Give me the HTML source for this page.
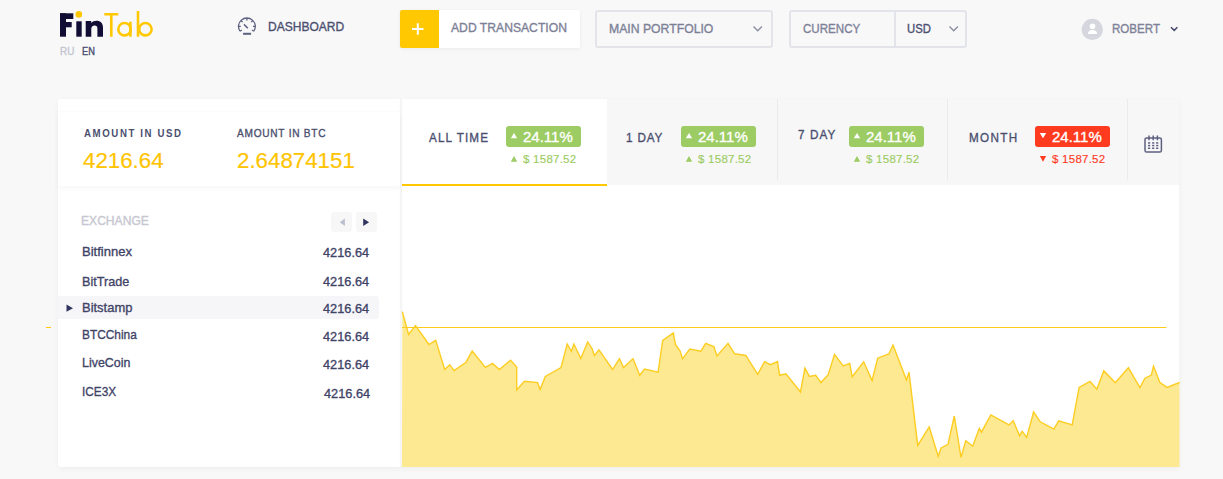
<!DOCTYPE html>
<html><head><meta charset="utf-8">
<style>
*{margin:0;padding:0;box-sizing:border-box}
html,body{width:1223px;height:479px;overflow:hidden;background:#f8f8f9;font-family:"Liberation Sans",sans-serif}
.a{position:absolute;white-space:nowrap;line-height:1;transform-origin:0 0}
.m{-webkit-text-stroke:0.35px currentColor}
.dk{color:#4b4f6f}
.rw{color:#3f4467}
.gr{color:#7d8197}
.btn{position:absolute;left:400px;top:10px;width:180px;height:38px;background:#fff;border-radius:2px;box-shadow:0 1px 4px rgba(0,0,0,0.06)}
.plus{position:absolute;left:400px;top:10px;width:39px;height:38px;background:#ffc800;border-radius:2px 0 0 2px}
.sel{position:absolute;top:10px;height:38px;border:2px solid #e3e4e9;border-radius:3px;background:#f8f8f9}
.card{position:absolute;left:58px;top:99px;width:1121px;height:368px;background:#fff;border-radius:3px;box-shadow:0 2px 6px rgba(0,0,0,0.045)}
.tabs{position:absolute;left:402px;top:99px;width:777px;height:86px;background:#f7f7f8}
.tab1{position:absolute;left:402px;top:99px;width:205px;height:86px;background:#fff}
.uline{position:absolute;left:402px;top:184px;width:205px;height:2px;background:#ffc800}
.vd{position:absolute;top:99px;width:1px;height:81px;background:#ebebee}
.badge{position:absolute;top:126px;width:75px;height:21px;border-radius:3px}
.g{background:#9ccc63}
.r{background:#ff3b1f}
.amt{font-size:11px}
.big{font-size:22.3px;color:#ffc400;-webkit-text-stroke:0.2px currentColor}
.tl{font-size:13px;letter-spacing:1.2px;transform:scaleX(0.9)}
.bt{font-size:15px;color:#fff}
.sub{font-size:11.5px;letter-spacing:0.25px;-webkit-text-stroke:0.15px currentColor}
.row{font-size:13.5px}
.hd{font-size:13px}
</style></head><body>

<!-- logo -->
<svg class="a" style="left:0;top:0" width="200" height="60" viewBox="0 0 200 60">
  <g fill="#120d34">
    <rect x="60" y="13.3" width="6" height="23.4"/>
    <rect x="60" y="13.3" width="13.3" height="5.7"/>
    <rect x="60" y="22" width="11.7" height="5.3"/>
    <rect x="76.3" y="21.3" width="5.4" height="15.4"/>
    <path d="M85.7 21 H91.2 V23 C92.5 21.5 94.5 20.7 96.5 20.7 C100.5 20.7 103 23.2 103 27.5 V36.7 H97.4 V28.5 C97.4 26.6 96.5 25.6 94.6 25.6 C92.5 25.6 91.3 26.9 91.3 29 V36.7 H85.7 Z"/>
  </g>
  <circle cx="78.8" cy="14.4" r="3.3" fill="#ffc800"/>
  <g fill="none" stroke="#ffc800" stroke-width="2.6">
    <path d="M104.3 14.3 H118.3 M111.3 14.3 V36.7"/>
    <circle cx="124.5" cy="29.2" r="6.2"/>
    <path d="M130.4 21.7 V36.7"/>
    <path d="M138 11 V36.7"/>
    <circle cx="145.4" cy="29.2" r="6.2"/>
  </g>
</svg>
<div class="a m" style="left:60px;top:47px;font-size:10.3px;color:#c4c5cf;transform:scaleX(0.96)">RU</div>
<div class="a dk m" style="left:82px;top:47px;font-size:10.3px;transform:scaleX(0.9)">EN</div>

<!-- dashboard -->
<svg class="a" style="left:0;top:0" width="300" height="50" viewBox="0 0 300 50">
  <g fill="none" stroke="#5d6180" stroke-width="1.3">
    <path d="M240.0 31.2 A8.4 8.4 0 1 1 253.8 31.2"/>
    <path d="M246.9 18 V20.4 M240.96 20.46 L242.6 22.1 M252.84 20.46 L251.2 22.1 M238.5 26.4 H240.8 M255.3 26.4 H253 M240 31.2 L241.8 30 M253.8 31.2 L252 30"/>
    <path d="M244 24.4 L247.8 28.2" stroke-width="1.5"/>
  </g>
  <rect x="243.1" y="32.8" width="8" height="2" fill="#5d6180"/>
</svg>
<div class="a dk m hd" style="left:268px;top:20px;transform:scaleX(0.925)">DASHBOARD</div>

<!-- add transaction -->
<div class="btn"></div>
<div class="plus"></div>
<svg class="a" style="left:411px;top:22px" width="14" height="14" viewBox="0 0 14 14"><path d="M1 7 H12.5 M6.8 1.2 V12.8" stroke="#fff" stroke-width="2"/></svg>
<div class="a gr m hd" style="left:451px;top:21px;transform:scaleX(0.935)">ADD TRANSACTION</div>

<!-- portfolio -->
<div class="sel" style="left:595px;width:178px"></div>
<div class="a gr m hd" style="left:609px;top:22px;transform:scaleX(0.94)">MAIN PORTFOLIO</div>
<svg class="a" style="left:752px;top:25px" width="12" height="8" viewBox="0 0 12 8"><path d="M1.5 1.5 L5.7 5.7 L9.9 1.5" fill="none" stroke="#8a8ea3" stroke-width="1.4"/></svg>

<!-- currency -->
<div class="sel" style="left:789px;width:178px"></div>
<div class="a" style="left:894px;top:10px;width:2px;height:38px;background:#e3e4e9"></div>
<div class="a gr m hd" style="left:803px;top:22px;transform:scaleX(0.89)">CURENCY</div>
<div class="a dk m hd" style="left:907px;top:22px;transform:scaleX(0.87)">USD</div>
<svg class="a" style="left:948px;top:25px" width="12" height="8" viewBox="0 0 12 8"><path d="M1.5 1.5 L5.7 5.7 L9.9 1.5" fill="none" stroke="#8a8ea3" stroke-width="1.4"/></svg>

<!-- user -->
<svg class="a" style="left:1081px;top:18px" width="23" height="23" viewBox="0 0 23 23">
  <circle cx="11.3" cy="11.4" r="10.6" fill="#d6d7de"/>
  <circle cx="11.5" cy="8.3" r="2.8" fill="#fff"/>
  <path d="M6.8 16 C7 13.2 9 12 11.5 12 C14 12 16 13.2 16.2 16 Z" fill="#fff"/>
</svg>
<div class="a gr m hd" style="left:1112px;top:22px;transform:scaleX(0.89)">ROBERT</div>
<svg class="a" style="left:1169px;top:25px" width="11" height="8" viewBox="0 0 11 8"><path d="M2 2.2 L5.2 5.4 L8.4 2.2" fill="none" stroke="#474b6b" stroke-width="1.5"/></svg>

<!-- card -->
<div class="card"></div>
<div class="tabs"></div>
<div class="tab1"></div>
<div class="uline"></div>
<div class="vd" style="left:777px"></div>
<div class="vd" style="left:947px"></div>
<div class="vd" style="left:1127px"></div>
<div class="a" style="left:400px;top:99px;width:2px;height:368px;background:#f5f5f5;box-shadow:0 0 2px rgba(0,0,0,0.03)"></div>

<!-- chart -->
<svg class="a" style="left:0;top:0" width="1223" height="479" viewBox="0 0 1223 479">
  <path d="M402.3,311.6 L408.6,334.5 L415.5,325.6 L429,344.5 L435.7,340.4 L444.7,369.5 L449.7,364.7 L454.1,370.6 L466,362.2 L472.2,351.1 L485.4,367.4 L492.5,363.4 L499.4,369.5 L510.5,360.3 L516.7,367 L516.7,389.9 L524.4,381.2 L537.6,382.6 L540.1,389.5 L545.3,376.4 L561,367.6 L567.2,344 L571.4,351.3 L573.9,344 L580.8,358.6 L587.7,341.9 L591.9,348.2 L594.4,355.5 L599,349.9 L612.6,369.5 L619.4,358.6 L623.6,367.6 L633,358.6 L639.7,375.3 L644.5,369.1 L658.1,372.2 L662.7,340.5 L673.3,332.9 L675.4,344.4 L680,350.9 L682.5,358.8 L689.8,349 L700.9,351.1 L705.7,343.4 L713.8,346.5 L717,355.9 L728,343.4 L734.7,353.8 L745.8,355.5 L757.7,374.3 L764.6,361.6 L770.4,364.7 L777.5,361.6 L779.6,375.3 L785.9,373.9 L800.5,392 L804.9,368 L809.4,376.4 L815.7,375.3 L820.9,382.6 L828.2,374.7 L834.5,354.4 L843.3,365.9 L849.7,363.4 L852.2,376.8 L863.7,361.8 L872.1,380.5 L877.7,358.2 L888.8,354 L893,345 L906.5,380.1 L909,372.2 L917.7,445.4 L929.2,427 L938.2,456.2 L941.1,447.9 L948,444.3 L954.3,416 L961,457.3 L965.8,440.6 L972.7,446.2 L979.3,428.5 L981.4,432.2 L990.8,414.9 L1009,424.9 L1013.2,420.8 L1019.6,435.8 L1022.1,431.2 L1026.7,437.5 L1033.6,411.8 L1040.3,421.8 L1053.9,429.1 L1058.7,420.8 L1072.2,424.9 L1079.1,387.4 L1090,381.5 L1096.9,389.1 L1103.8,370.9 L1115.3,382.8 L1128.4,367.8 L1139.9,387.6 L1144.9,378.2 L1151.4,375.1 L1153.5,366.1 L1159.7,382.2 L1167,387.4 L1179.5,382.5 L1179.5,467 L402,467 Z" fill="#fde991"/>
  <path d="M402 327.5 H1166.5" stroke="#fdcb1c" stroke-width="1"/>
  <path d="M402.3,311.6 L408.6,334.5 L415.5,325.6 L429,344.5 L435.7,340.4 L444.7,369.5 L449.7,364.7 L454.1,370.6 L466,362.2 L472.2,351.1 L485.4,367.4 L492.5,363.4 L499.4,369.5 L510.5,360.3 L516.7,367 L516.7,389.9 L524.4,381.2 L537.6,382.6 L540.1,389.5 L545.3,376.4 L561,367.6 L567.2,344 L571.4,351.3 L573.9,344 L580.8,358.6 L587.7,341.9 L591.9,348.2 L594.4,355.5 L599,349.9 L612.6,369.5 L619.4,358.6 L623.6,367.6 L633,358.6 L639.7,375.3 L644.5,369.1 L658.1,372.2 L662.7,340.5 L673.3,332.9 L675.4,344.4 L680,350.9 L682.5,358.8 L689.8,349 L700.9,351.1 L705.7,343.4 L713.8,346.5 L717,355.9 L728,343.4 L734.7,353.8 L745.8,355.5 L757.7,374.3 L764.6,361.6 L770.4,364.7 L777.5,361.6 L779.6,375.3 L785.9,373.9 L800.5,392 L804.9,368 L809.4,376.4 L815.7,375.3 L820.9,382.6 L828.2,374.7 L834.5,354.4 L843.3,365.9 L849.7,363.4 L852.2,376.8 L863.7,361.8 L872.1,380.5 L877.7,358.2 L888.8,354 L893,345 L906.5,380.1 L909,372.2 L917.7,445.4 L929.2,427 L938.2,456.2 L941.1,447.9 L948,444.3 L954.3,416 L961,457.3 L965.8,440.6 L972.7,446.2 L979.3,428.5 L981.4,432.2 L990.8,414.9 L1009,424.9 L1013.2,420.8 L1019.6,435.8 L1022.1,431.2 L1026.7,437.5 L1033.6,411.8 L1040.3,421.8 L1053.9,429.1 L1058.7,420.8 L1072.2,424.9 L1079.1,387.4 L1090,381.5 L1096.9,389.1 L1103.8,370.9 L1115.3,382.8 L1128.4,367.8 L1139.9,387.6 L1144.9,378.2 L1151.4,375.1 L1153.5,366.1 L1159.7,382.2 L1167,387.4 L1179.5,382.5" fill="none" stroke="#fdcd22" stroke-width="1.4" stroke-linejoin="miter"/>
</svg>


<div class="a" style="left:58px;top:112px;width:342px;height:74px;background:#fff;box-shadow:0 3px 5px rgba(0,0,0,0.03),0 -1px 2px rgba(0,0,0,0.02)"></div>
<!-- amounts -->
<div class="a dk amt" style="left:84px;top:128px;font-weight:bold;letter-spacing:1.8px;transform:scaleX(0.88)">AMOUNT IN USD</div>
<div class="a big" style="left:83px;top:150px">4216.64</div>
<div class="a dk amt m" style="left:237px;top:128px;letter-spacing:0.8px;transform:scaleX(0.92)">AMOUNT IN BTC</div>
<div class="a big" style="left:237px;top:150px">2.64874151</div>

<!-- tabs -->
<div class="a dk tl m" style="left:429px;top:131px">ALL TIME</div>
<div class="badge g" style="left:506px"></div>
<div class="a bt m" style="left:523px;top:129px">24.11%</div>
<div class="a sub" style="left:523px;top:154px;color:#9ccc63">$ 1587.52</div>

<div class="a dk tl m" style="left:626px;top:131px;letter-spacing:0.9px">1 DAY</div>
<div class="badge g" style="left:681px"></div>
<div class="a bt m" style="left:698px;top:129px">24.11%</div>
<div class="a sub" style="left:698px;top:154px;color:#9ccc63">$ 1587.52</div>

<div class="a dk tl m" style="left:798px;top:128px">7 DAY</div>
<div class="badge g" style="left:849px"></div>
<div class="a bt m" style="left:866px;top:129px">24.11%</div>
<div class="a sub" style="left:866px;top:154px;color:#9ccc63">$ 1587.52</div>

<div class="a dk tl m" style="left:969px;top:131px;letter-spacing:1.45px">MONTH</div>
<div class="badge r" style="left:1035px"></div>
<div class="a bt m" style="left:1052px;top:129px">24.11%</div>
<div class="a sub" style="left:1052px;top:154px;color:#ff3b1f">$ 1587.52</div>

<!-- calendar -->
<svg class="a" style="left:0;top:0" width="1223" height="200" viewBox="0 0 1223 200">
  <g fill="none" stroke="#5d6180" stroke-width="1.5">
    <rect x="1145" y="137.9" width="16.4" height="14.1" rx="1.6"/>
    <path d="M1149 135.6 V140.2 M1153.2 135.6 V140.2 M1157.4 135.6 V140.2"/>
  </g>
  <g fill="#5d6180">
    <rect x="1148" y="142.2" width="2.2" height="1.5"/><rect x="1152.1" y="142.2" width="2.2" height="1.5"/><rect x="1156.1" y="142.2" width="2.2" height="1.5"/>
    <rect x="1148" y="144.8" width="2.2" height="1.5"/><rect x="1152.1" y="144.8" width="2.2" height="1.5"/><rect x="1156.1" y="144.8" width="2.2" height="1.5"/>
    <rect x="1148" y="147.5" width="2.2" height="1.5"/><rect x="1152.1" y="147.5" width="2.2" height="1.5"/><rect x="1156.1" y="147.5" width="2.2" height="1.5"/>
  </g>
</svg>

<!-- exchange list -->
<div class="a m" style="left:81px;top:214px;font-size:13px;color:#c6c7d1;transform:scaleX(0.93)">EXCHANGE</div>
<div class="a" style="left:331px;top:212px;width:21px;height:20px;background:#f7f7f8;border-radius:3px"></div>
<div class="a" style="left:356px;top:212px;width:21px;height:20px;background:#f7f7f8;border-radius:3px"></div>
<div class="a" style="left:58px;top:296px;width:321px;height:23px;background:#f6f6f9;border-radius:0 3px 3px 0"></div>

<div class="a rw row m" style="left:82px;top:245px;transform:scaleX(0.965)">Bitfinnex</div>
<div class="a rw row m" style="left:82px;top:275px;transform:scaleX(0.935)">BitTrade</div>
<div class="a rw row m" style="left:82px;top:301px;transform:scaleX(0.96)">Bitstamp</div>
<div class="a rw row m" style="left:82px;top:328px;transform:scaleX(0.88)">BTCChina</div>
<div class="a rw row m" style="left:82px;top:356px;transform:scaleX(0.92)">LiveCoin</div>
<div class="a rw row m" style="left:82px;top:385px;transform:scaleX(0.875)">ICE3X</div>
<div class="a rw row m" style="left:323px;top:246px;transform:scaleX(0.945)">4216.64</div>
<div class="a rw row m" style="left:323px;top:275px;transform:scaleX(0.945)">4216.64</div>
<div class="a rw row m" style="left:323px;top:302px;transform:scaleX(0.945)">4216.64</div>
<div class="a rw row m" style="left:323px;top:330px;transform:scaleX(0.945)">4216.64</div>
<div class="a rw row m" style="left:323px;top:358px;transform:scaleX(0.945)">4216.64</div>
<div class="a rw row m" style="left:324px;top:387px;transform:scaleX(0.945)">4216.64</div>

<svg class="a" style="left:0;top:0" width="1223" height="479" viewBox="0 0 1223 479">
  <!-- triangles -->
  <path d="M344.9 218.4 L339.8 222.2 L344.9 226 Z" fill="#bcbfcd"/>
  <path d="M363.2 218.4 L369.1 222.2 L363.2 226 Z" fill="#30355f"/>
  <path d="M66.5 304.6 L73 308.2 L66.5 311.8 Z" fill="#30355f"/>
  <path d="M46 327 H51 V328 H46 Z" fill="#ffc800"/>
  <g fill="#fff">
    <path d="M510.8 138.3 L514 132.9 L517.2 138.3 Z"/>
    <path d="M685.8 138.3 L689 132.9 L692.2 138.3 Z"/>
    <path d="M853.8 138.3 L857 132.9 L860.2 138.3 Z"/>
    <path d="M1039.8 132.9 L1046.2 132.9 L1043 138.3 Z"/>
  </g>
  <g fill="#9ccc63">
    <path d="M510.8 161.8 L514 156 L517.2 161.8 Z"/>
    <path d="M685.8 161.8 L689 156 L692.2 161.8 Z"/>
    <path d="M853.8 161.8 L857 156 L860.2 161.8 Z"/>
  </g>
  <path d="M1039.8 156 L1046.2 156 L1043 161.8 Z" fill="#ff3b1f"/>
</svg>

</body></html>
